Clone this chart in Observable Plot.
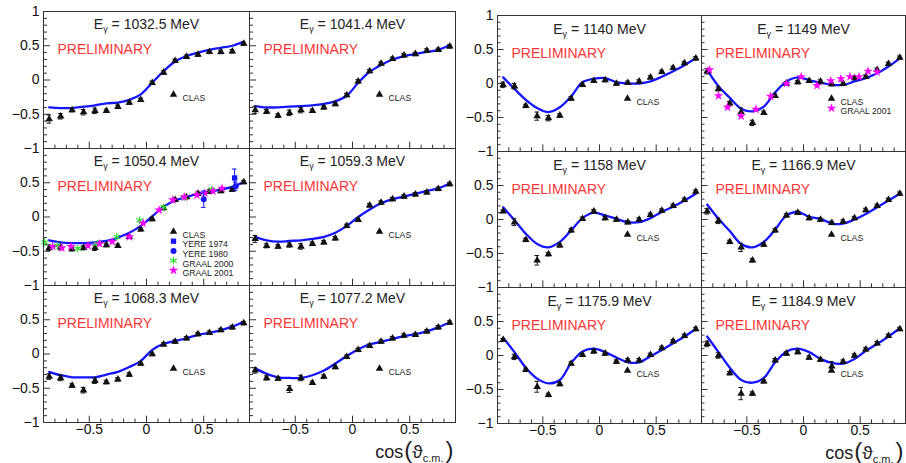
<!DOCTYPE html>
<html><head><meta charset="utf-8">
<script src="https://cdn.jsdelivr.net/npm/d3@7"></script>
<script src="https://cdn.jsdelivr.net/npm/@observablehq/plot@0.6"></script>
<style>
body{margin:0;background:#fff;}
#wrap{position:relative;width:906px;height:463px;overflow:hidden;font-family:"Liberation Sans",Arial,sans-serif;}
#wrap svg{position:absolute;top:0;}
</style></head><body><div id="wrap"></div>
<script>
// ---------- data ----------
const cosBins = [-0.85,-0.75,-0.65,-0.55,-0.45,-0.35,-0.25,-0.15,-0.05,0.05,0.15,0.25,0.35,0.45,0.55,0.65,0.75,0.85];
const energies = ["1032.5","1041.4","1050.4","1059.3","1068.3","1077.2","1140","1149","1158","1166.9","1175.9","1184.9"];
const yTickLabels = [1,0.5,0,-0.5,-1];
const xTickLabels = [-0.5,0,0.5];

const clas1032_5 = [-0.57,-0.53,-0.44,-0.47,-0.45,-0.45,-0.39,-0.33,-0.29,-0.04,0.11,0.28,0.34,0.37,0.41,0.41,0.42,0.53];
const err1032_5  = [0.06,0.04,0.025,0.04,0.04,0.025,0.025,0.025,0.025,0.025,0.025,0.025,0.025,0.025,0.025,0.025,0.025,0.025];
const fit1032_5  = [-0.40,-0.41,-0.41,-0.39,-0.37,-0.34,-0.33,-0.29,-0.21,-0.04,0.13,0.27,0.35,0.40,0.44,0.47,0.50,0.56];

const clas1041_4 = [-0.44,-0.46,-0.52,-0.48,-0.44,-0.45,-0.40,-0.35,-0.22,-0.02,0.13,0.24,0.31,0.36,0.38,0.43,0.44,0.49];
const err1041_4  = [0.05,0.03,0.025,0.04,0.04,0.025,0.025,0.025,0.025,0.025,0.025,0.025,0.025,0.025,0.025,0.025,0.025,0.025];
const fit1041_4  = [-0.38,-0.40,-0.40,-0.39,-0.38,-0.37,-0.35,-0.31,-0.23,-0.04,0.12,0.22,0.30,0.35,0.38,0.41,0.44,0.51];

const clas1050_4 = [-0.45,-0.44,-0.47,-0.45,-0.45,-0.41,-0.42,-0.29,-0.18,-0.03,0.13,0.25,0.29,0.34,0.37,0.38,0.40,0.51];
const err1050_4  = [0.04,0.04,0.025,0.03,0.04,0.025,0.025,0.025,0.025,0.025,0.025,0.025,0.025,0.025,0.025,0.025,0.025,0.025];
const fit1050_4  = [-0.34,-0.37,-0.38,-0.38,-0.37,-0.35,-0.30,-0.23,-0.13,0.01,0.15,0.24,0.29,0.34,0.37,0.40,0.44,0.51];
const graal2000X_1050_4 = [-0.89,-0.78,-0.60,-0.43,-0.26,-0.06,0.15,0.33,0.57];
const graal2000Y_1050_4 = [-0.37,-0.42,-0.46,-0.39,-0.29,-0.05,0.14,0.29,0.40];
const graal2001X_1050_4 = [-0.82,-0.74,-0.66,-0.51,-0.41,-0.30,-0.15,-0.03,0.11,0.23,0.33,0.44,0.51,0.58,0.66];
const graal2001Y_1050_4 = [-0.43,-0.45,-0.43,-0.42,-0.39,-0.36,-0.29,-0.09,0.10,0.25,0.29,0.32,0.35,0.38,0.42];
const yere1974X_1050_4 = [0.77];
const yere1974Y_1050_4 = [0.57];
const yere1974E_1050_4 = [0.13];
const yere1980X_1050_4 = [0.50,0.78];
const yere1980Y_1050_4 = [0.26,0.45];
const yere1980E_1050_4 = [0.12,0.06];

const clas1059_3 = [-0.32,-0.42,-0.43,-0.41,-0.43,-0.39,-0.37,-0.31,-0.13,-0.04,0.17,0.21,0.26,0.30,0.33,0.36,0.41,0.48];
const err1059_3  = [0.05,0.03,0.025,0.03,0.04,0.025,0.025,0.025,0.025,0.025,0.025,0.025,0.025,0.025,0.025,0.025,0.025,0.025];
const fit1059_3  = [-0.29,-0.34,-0.36,-0.35,-0.34,-0.32,-0.29,-0.23,-0.13,0.00,0.11,0.20,0.26,0.30,0.34,0.38,0.42,0.49];

const clas1068_3 = [-0.33,-0.35,-0.46,-0.53,-0.39,-0.41,-0.37,-0.30,-0.14,0.00,0.14,0.18,0.23,0.29,0.31,0.35,0.39,0.45];
const err1068_3  = [0.04,0.04,0.025,0.04,0.04,0.025,0.025,0.025,0.025,0.025,0.025,0.025,0.025,0.025,0.025,0.025,0.025,0.025];
const fit1068_3  = [-0.26,-0.31,-0.34,-0.34,-0.34,-0.30,-0.26,-0.19,-0.10,0.06,0.15,0.19,0.23,0.28,0.31,0.35,0.40,0.47];

const clas1077_2 = [-0.24,-0.35,-0.36,-0.51,-0.35,-0.42,-0.33,-0.19,-0.04,0.06,0.12,0.18,0.23,0.27,0.28,0.33,0.39,0.46];
const err1077_2  = [0.04,0.03,0.025,0.05,0.04,0.025,0.025,0.025,0.025,0.025,0.025,0.025,0.025,0.025,0.025,0.025,0.025,0.025];
const fit1077_2  = [-0.21,-0.29,-0.34,-0.35,-0.35,-0.31,-0.24,-0.14,-0.03,0.07,0.14,0.18,0.22,0.26,0.29,0.33,0.39,0.46];

const clas1140 = [-0.02,-0.04,-0.33,-0.48,-0.51,-0.47,-0.22,-0.02,0.04,0.05,0.00,0.01,0.03,0.09,0.17,0.23,0.30,0.37];
const err1140  = [0.04,0.04,0.025,0.06,0.04,0.025,0.025,0.025,0.025,0.025,0.025,0.025,0.025,0.025,0.025,0.025,0.025,0.025];
const fit1140  = [0.09,-0.08,-0.24,-0.36,-0.42,-0.35,-0.19,0.02,0.07,0.08,0.02,0.00,0.00,0.03,0.10,0.18,0.27,0.37];

const clas1149 = [0.18,-0.08,-0.29,-0.42,-0.58,-0.43,-0.18,0.00,0.02,0.04,0.03,-0.01,0.00,0.08,0.10,0.20,0.29,0.38];
const err1149  = [0.04,0.03,0.025,0.06,0.04,0.025,0.025,0.025,0.025,0.025,0.025,0.025,0.025,0.025,0.025,0.025,0.025,0.025];
const fit1149  = [0.20,-0.04,-0.21,-0.37,-0.41,-0.34,-0.13,0.03,0.09,0.05,0.01,-0.02,-0.02,0.03,0.08,0.15,0.25,0.37];
const graal2001X_1149 = [-0.83,-0.75,-0.67,-0.55,-0.42,-0.29,-0.15,-0.02,0.12,0.24,0.33,0.41,0.49,0.57,0.65];
const graal2001Y_1149 = [0.20,-0.18,-0.35,-0.48,-0.38,-0.19,0.00,0.10,-0.03,0.04,0.07,0.10,0.10,0.18,0.17];

const clas1158 = [0.12,-0.04,-0.30,-0.60,-0.51,-0.38,-0.16,0.01,0.12,0.02,0.00,-0.04,0.00,0.07,0.13,0.20,0.29,0.41];
const err1158  = [0.02,0.05,0.025,0.07,0.025,0.025,0.025,0.025,0.025,0.025,0.025,0.025,0.025,0.025,0.025,0.025,0.025,0.025];
const fit1158  = [0.18,-0.01,-0.21,-0.36,-0.41,-0.33,-0.16,0.02,0.10,0.06,0.01,-0.04,-0.04,0.02,0.11,0.19,0.28,0.38];

const clas1166_9 = [0.12,-0.02,-0.33,-0.41,-0.60,-0.37,-0.16,0.06,0.10,0.02,0.00,-0.05,-0.03,0.02,0.14,0.20,0.29,0.38];
const err1166_9  = [0.04,0.04,0.025,0.06,0.025,0.025,0.025,0.025,0.025,0.025,0.025,0.025,0.025,0.025,0.025,0.025,0.025,0.025];
const fit1166_9  = [0.22,0.01,-0.17,-0.36,-0.41,-0.33,-0.15,0.06,0.11,0.04,0.01,-0.06,-0.06,0.00,0.08,0.18,0.28,0.38];

const clas1175_9 = [0.23,-0.02,-0.21,-0.46,-0.58,-0.42,-0.12,0.01,0.06,0.03,-0.09,-0.07,-0.07,0.01,0.11,0.21,0.29,0.39];
const err1175_9  = [0.02,0.04,0.025,0.08,0.025,0.025,0.025,0.025,0.025,0.025,0.025,0.025,0.025,0.025,0.025,0.025,0.025,0.025];
const fit1175_9  = [0.26,0.05,-0.18,-0.34,-0.41,-0.36,-0.11,0.06,0.10,0.05,-0.03,-0.10,-0.10,-0.01,0.08,0.18,0.28,0.39];

const clas1184_9 = [0.17,0.00,-0.26,-0.56,-0.56,-0.38,-0.07,0.03,0.05,-0.03,-0.06,-0.16,-0.09,0.00,0.09,0.18,0.29,0.39];
const err1184_9  = [0.04,0.04,0.025,0.09,0.025,0.025,0.025,0.025,0.025,0.025,0.025,0.07,0.025,0.025,0.025,0.025,0.025,0.025];
const fit1184_9  = [0.28,0.05,-0.18,-0.36,-0.40,-0.33,-0.10,0.06,0.10,0.05,-0.05,-0.11,-0.12,-0.05,0.07,0.17,0.28,0.40];

const legendDefault = ["CLAS"];
const legend1050_4 = ["CLAS","YERE 1974","YERE 1980","GRAAL 2000","GRAAL 2001"];
const legend1149 = ["CLAS","GRAAL 2001"];

// ---------- tables built from the arrays ----------
const clasByPanel = [clas1032_5,clas1041_4,clas1050_4,clas1059_3,clas1068_3,clas1077_2,clas1140,clas1149,clas1158,clas1166_9,clas1175_9,clas1184_9];
const errByPanel  = [err1032_5,err1041_4,err1050_4,err1059_3,err1068_3,err1077_2,err1140,err1149,err1158,err1166_9,err1175_9,err1184_9];
const fitByPanel  = [fit1032_5,fit1041_4,fit1050_4,fit1059_3,fit1068_3,fit1077_2,fit1140,fit1149,fit1158,fit1166_9,fit1175_9,fit1184_9];
const extraSeries = [
  {panel:2, label:"GRAAL 2000", x:graal2000X_1050_4, y:graal2000Y_1050_4},
  {panel:2, label:"GRAAL 2001", x:graal2001X_1050_4, y:graal2001Y_1050_4},
  {panel:2, label:"YERE 1974", x:yere1974X_1050_4, y:yere1974Y_1050_4, e:yere1974E_1050_4},
  {panel:2, label:"YERE 1980", x:yere1980X_1050_4, y:yere1980Y_1050_4, e:yere1980E_1050_4},
  {panel:7, label:"GRAAL 2001", x:graal2001X_1149, y:graal2001Y_1149}
];
const legendByPanel = energies.map((e,i)=> i===2 ? legend1050_4 : i===7 ? legend1149 : legendDefault);

const BLUE = "#1515ff", MAG = "#ff00ff", GREEN = "#30dd30", RED = "#ff3636", INK = "#111";
const symStyle = {
  "CLAS": {symbol:"triangle", fill:INK, r:2.8},
  "YERE 1974": {symbol:"square", fill:BLUE, r:3},
  "YERE 1980": {symbol:"circle", fill:BLUE, r:3},
  "GRAAL 2000": {symbol:"asterisk", stroke:GREEN, r:3.6, strokeWidth:1.2},
  "GRAAL 2001": {symbol:"star", fill:MAG, r:3}
};
const TITLE_MARK = "\u00a7T", XTITLE_MARK = "\u00a7X";

function makeChart(panelIdx, o) {
  const W = o.width, H = 463;
  const bw = (W - o.ml - o.mr) / 2, bh = (H - o.mt - o.mb) / 3;
  const pos = i => ({col: i % 2, row: Math.floor(i / 2)});
  const panels = panelIdx.map((p, i) => ({p, ...pos(i), energy: energies[p]}));
  const clasRows = panels.flatMap(P => cosBins.map((x, j) => ({col:P.col,row:P.row,x,y:clasByPanel[P.p][j],e:errByPanel[P.p][j]})));
  const fitRows = panels.flatMap(P => cosBins.map((x, j) => ({col:P.col,row:P.row,x,y:fitByPanel[P.p][j]})));
  const extraRows = label => panels.flatMap(P => extraSeries.filter(s => s.panel === P.p && s.label === label)
      .flatMap(s => s.x.map((x, j) => ({col:P.col,row:P.row,x,y:s.y[j],e:s.e ? s.e[j] : 0}))));
  const fx = "col", fy = "row";
  const yMinor = d3.range(-9, 10).map(v => v/10).filter(v => Math.abs(v) !== 0.5 && v !== 0);
  const yMajor = [-0.5, 0, 0.5];
  const xMinor = yMinor, xMajor = yMajor;
  const marks = [];
  marks.push(Plot.tickY(yMinor, {y: d => d, insetRight: bw - 4, stroke: "#333"}));
  marks.push(Plot.tickY(yMajor, {y: d => d, insetRight: bw - 7, stroke: "#333"}));
  marks.push(Plot.tickX(xMinor, {x: d => d, insetTop: bh - 4, stroke: "#333"}));
  marks.push(Plot.tickX(xMajor, {x: d => d, insetTop: bh - 7, stroke: "#333"}));
  marks.push(Plot.line(fitRows, {x:"x", y:"y", fx, fy, stroke: BLUE, strokeWidth: 2.3, curve: "catmull-rom"}));
  const errMarks = (rows, color) => [
    Plot.ruleX(rows, {x:"x", y1: d => d.y - d.e, y2: d => d.y + d.e, fx, fy, stroke: color, strokeWidth: 1}),
    Plot.ruleY(rows, {y: d => d.y + d.e, x1: d => d.x - 0.02, x2: d => d.x + 0.02, fx, fy, stroke: color, strokeWidth: 1}),
    Plot.ruleY(rows, {y: d => d.y - d.e, x1: d => d.x - 0.02, x2: d => d.x + 0.02, fx, fy, stroke: color, strokeWidth: 1})
  ];
  marks.push(...errMarks(clasRows, INK));
  marks.push(Plot.dot(clasRows, {x:"x", y:"y", fx, fy, ...symStyle["CLAS"]}));
  for (const lab of ["GRAAL 2000", "GRAAL 2001"]) {
    const rows = extraRows(lab);
    if (rows.length) marks.push(Plot.dot(rows, {x:"x", y:"y", fx, fy, ...symStyle[lab]}));
  }
  for (const lab of ["YERE 1974", "YERE 1980"]) {
    const rows = extraRows(lab);
    if (rows.length) {
      marks.push(...errMarks(rows, BLUE));
      marks.push(Plot.dot(rows, {x:"x", y:"y", fx, fy, ...symStyle[lab]}));
    }
  }
  marks.push(Plot.text(panels, {fx, fy, text: d => TITLE_MARK + d.energy, frameAnchor: "top", dy: o.titleDy, lineAnchor: "bottom",
    fontSize: 14, fill: "#222"}));
  marks.push(Plot.text(panels, {fx, fy, text: () => "PRELIMINARY", frameAnchor: "top-left", dx: 14, dy: 42,
    lineAnchor: "bottom", textAnchor: "start", fontSize: 14, fill: RED}));
  const legRows = panels.flatMap(P => legendByPanel[P.p].map((label, k) => ({col:P.col,row:P.row,label,k})));
  for (let k = 0; k < 5; k++) {
    const rows = legRows.filter(r => r.k === k);
    if (!rows.length) continue;
    for (const lab of Object.keys(symStyle)) {
      const rr = rows.filter(r => r.label === lab);
      if (rr.length) marks.push(Plot.dot(rr, {fx, fy, frameAnchor: "top-left", dx: 130, dy: 83 + 9.7 * k, ...symStyle[lab]}));
    }
    marks.push(Plot.text(rows, {fx, fy, text: "label", frameAnchor: "top-left", dx: 139, dy: 83 + 9.7 * k,
      textAnchor: "start", fontSize: 8.7, fill: "#222"}));
  }
  const fmt = v => v === 0 ? "0" : (v < 0 ? "\u2212" : "") + Math.abs(v);
  const yLab = [0,1,2].flatMap(r => yTickLabels.filter(v => r === 0 || v !== 1).map(v => ({col:0,row:r,v})));
  marks.push(Plot.text(yLab, {fx, fy, y: "v", text: d => fmt(d.v), frameAnchor: "left", textAnchor: "end", dx: -4, fontSize: 14, fill: "#111"}));
  const xLab = [0,1].flatMap(c => xTickLabels.map(v => ({col:c,row:2,v})));
  marks.push(Plot.text(xLab, {fx, fy, x: "v", text: d => fmt(d.v), frameAnchor: "bottom", dy: 11, fontSize: 14, fill: "#111"}));
  marks.push(Plot.text([{col:1,row:2}], {fx, fy, text: () => XTITLE_MARK, frameAnchor: "bottom-right", textAnchor: "end",
    lineAnchor: "bottom", dx: o.titleDx, dy: 35, fill: "#222"}));
  marks.push(Plot.frame({stroke: "#333", strokeWidth: 1}));

  const svg = Plot.plot({
    width: W, height: H,
    marginLeft: o.ml, marginRight: o.mr, marginTop: o.mt, marginBottom: o.mb,
    style: {fontFamily: '"Liberation Sans", Arial, sans-serif', background: "transparent", overflow: "visible"},
    x: {domain: [-0.9, 0.9], axis: null},
    y: {domain: [-1, 1], axis: null},
    fx: {domain: [0, 1], padding: 0, axis: null},
    fy: {domain: [0, 1, 2], padding: 0, axis: null},
    marks
  });
  const NS = "http://www.w3.org/2000/svg";
  const setParts = (el, parts) => {
    while (el.firstChild) el.removeChild(el.firstChild);
    for (const [s, attrs] of parts) {
      const t = document.createElementNS(NS, "tspan");
      for (const k in attrs) t.setAttribute(k, attrs[k]);
      t.textContent = s;
      el.appendChild(t);
    }
  };
  svg.querySelectorAll("text").forEach(t => {
    const s = t.textContent;
    if (s.startsWith(TITLE_MARK)) {
      const e = s.slice(TITLE_MARK.length);
      setParts(t, [["E", {}], ["\u03b3", {"font-size": 9, dy: 3}], [" = " + e + " MeV", {dy: -3}]]);
    } else if (s.startsWith(XTITLE_MARK)) {
      setParts(t, [["cos", {"font-size": 18}], ["(", {"font-size": 24, dx: 1}], ["\u03d1", {"font-size": 19}],
        ["c.m.", {"font-size": 11, dy: 4}], [")", {"font-size": 24, dy: -4, dx: 2}]]);
    }
  });
  svg.style.left = o.left + "px";
  return svg;
}

const wrap = document.getElementById("wrap");
wrap.appendChild(makeChart([0,1,2,3,4,5], {left: 0, width: 456, ml: 43, mr: 1, mt: 10, mb: 40, titleDy: 17, titleDx: -2}));
wrap.appendChild(makeChart([6,7,8,9,10,11], {left: 456, width: 450, ml: 40, mr: 1, mt: 14, mb: 40, titleDy: 18, titleDx: -2}));
</script></body></html>
